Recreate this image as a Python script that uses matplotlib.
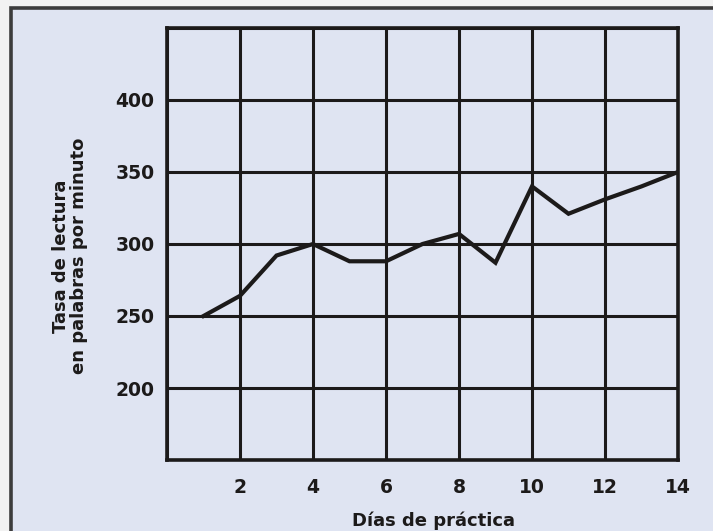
import matplotlib
matplotlib.use("Agg")
import matplotlib.pyplot as plt
from matplotlib.patches import Rectangle

# data
dias = [1, 2, 3, 4, 5, 6, 7, 8, 9, 10, 11, 12, 13, 14]
tasa = [250, 264, 292, 300, 288, 288, 300, 307, 287, 340, 321, 331, 340, 350]

x_ticks = [2, 4, 6, 8, 10, 12, 14]
y_ticks = [200, 250, 300, 350, 400]
x_grid = [0, 2, 4, 6, 8, 10, 12, 14]
y_grid = [150, 200, 250, 300, 350, 400, 450]

bg = "#dfe4f2"
ink = "#1c1a1a"
W, H = 713, 531

fig = plt.figure(figsize=(W / 100, H / 100), dpi=100)
fig.patch.set_facecolor("#f2f2f2")

# light panel with dark border (clipped at right/bottom like the scan)
fig.add_artist(Rectangle((10.5 / W, -0.05), 1.1, (H - 7.5) / H + 0.05,
                         transform=fig.transFigure, facecolor=bg,
                         edgecolor="#3c3c3c", linewidth=2.6, zorder=0))

ax = fig.add_axes([167 / W, (H - 460) / H, (678 - 167) / W, (460 - 28) / H])
ax.set_facecolor(bg)

for gx in x_grid:
    ax.axvline(gx, color=ink, linewidth=2.2, zorder=1)
for gy in y_grid:
    ax.axhline(gy, color=ink, linewidth=2.2, zorder=1)

ax.plot(dias, tasa, color=ink, linewidth=3.0, solid_joinstyle="miter", zorder=3)

ax.set_xlim(0, 14)
ax.set_ylim(150, 450)
ax.set_xticks(x_ticks)
ax.set_yticks(y_ticks)
ax.tick_params(length=0, labelsize=13.5, colors=ink)
ax.tick_params(axis="x", pad=13)
ax.tick_params(axis="y", pad=9)
for lab in ax.get_xticklabels() + ax.get_yticklabels():
    lab.set_fontweight("bold")
for s in ax.spines.values():
    s.set_linewidth(2.6)
    s.set_color(ink)

fig.text(70 / W, 1 - 256 / H, "Tasa de lectura\nen palabras por minuto",
         rotation=90, ha="center", va="center", fontsize=13,
         fontweight="bold", color=ink, linespacing=1.0, multialignment="center")
fig.text(433 / W, 1 - 521 / H, "Días de práctica", ha="center", va="center",
         fontsize=13, fontweight="bold", color=ink)

fig.savefig("out.png", dpi=100, facecolor=fig.get_facecolor())
